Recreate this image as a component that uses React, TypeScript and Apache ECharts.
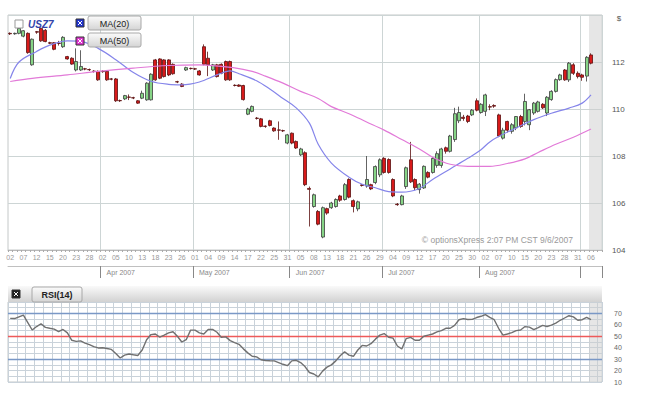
import React, { useEffect, useRef } from 'react';
import * as echarts from 'echarts';

// Trading days shown (Mar 2 – Sep 6, 2007)
const marDays = [2, 5, 6, 7, 8, 9, 12, 13, 14, 15, 16, 19, 20, 21, 22, 23, 26, 27, 28, 29, 30];
const aprDays = [2, 3, 4, 5, 6, 9, 10, 11, 12, 13, 16, 17, 18, 19, 20, 23, 24, 25, 26, 27, 30];
const mayDays = [1, 2, 3, 4, 7, 8, 9, 10, 11, 14, 15, 16, 17, 18, 21, 22, 23, 24, 25, 29, 30, 31];
const junDays = [1, 4, 5, 6, 7, 8, 11, 12, 13, 14, 15, 18, 19, 20, 21, 22, 25, 26, 27, 28, 29];
const julDays = [2, 3, 4, 5, 6, 9, 10, 11, 12, 13, 16, 17, 18, 19, 20, 23, 24, 25, 26, 27, 30, 31];
const augDays = [1, 2, 3, 6, 7, 8, 9, 10, 13, 14, 15, 16, 17, 20, 21, 22, 23, 24, 27, 28, 29, 30, 31];
const sepDays = [4, 5, 6];
const monthNums = ['03', '04', '05', '06', '07', '08', '09'];
const monthNames = ['Mar 2007', 'Apr 2007', 'May 2007', 'Jun 2007', 'Jul 2007', 'Aug 2007', ''];
const monthDays = [marDays, aprDays, mayDays, junDays, julDays, augDays, sepDays];

// USZ7 daily candles: [open, close, low, high]
const ohlcMar = [
  [113.22, 113.2, 113.15, 113.26], [113.2, 113.22, 113.16, 113.25], [113.22, 113.43, 113.18, 113.53],
  [113.1, 113.33, 113.05, 113.36], [113.22, 112.4, 112.35, 113.26], [111.88, 112.97, 111.84, 113.0],
  [113.29, 113.27, 113.2, 113.32], [113.43, 112.9, 112.86, 113.46], [113.35, 112.87, 112.84, 113.4],
  [112.82, 112.8, 112.76, 112.86], [112.82, 112.54, 112.5, 112.85], [112.8, 112.79, 112.7, 112.9],
  [112.65, 113.05, 112.6, 113.1], [112.23, 112.13, 112.1, 112.26], [112.16, 111.91, 111.88, 112.2],
  [111.66, 112.02, 111.6, 112.58], [111.66, 111.81, 111.62, 112.5], [111.71, 111.7, 111.65, 111.75],
  [111.68, 111.67, 111.62, 111.72], [111.61, 111.6, 111.55, 111.65], [111.6, 111.24, 111.2, 111.64],
];
const ohlcApr = [
  [111.6, 111.59, 111.54, 111.65], [111.6, 111.24, 111.2, 111.64], [111.28, 111.27, 111.22, 111.32],
  [111.28, 110.35, 110.3, 111.32], [110.36, 110.35, 110.3, 110.4], [110.43, 110.57, 110.38, 110.6],
  [110.51, 110.5, 110.38, 110.62], [110.48, 110.47, 110.42, 110.52], [110.35, 110.25, 110.22, 110.38],
  [110.46, 110.67, 110.42, 110.78], [110.39, 111.1, 110.35, 111.14], [110.39, 111.48, 110.36, 111.52],
  [112.09, 111.24, 111.2, 112.13], [112.13, 111.31, 111.27, 112.16], [112.09, 111.38, 111.34, 112.12],
  [112.09, 111.45, 111.4, 112.12], [111.9, 111.5, 111.46, 111.94], [111.16, 111.15, 111.1, 111.2],
  [111.06, 110.96, 110.93, 111.1], [111.66, 111.76, 111.62, 111.8], [111.73, 111.72, 111.68, 111.76],
];
const ohlcMay = [
  [111.71, 111.7, 111.66, 111.75], [111.62, 111.45, 111.42, 111.66], [112.65, 111.9, 111.86, 112.75],
  [112.16, 111.88, 111.4, 112.44], [111.66, 111.88, 111.62, 111.92], [111.88, 111.38, 111.34, 111.92],
  [111.9, 111.52, 111.48, 111.94], [112.02, 111.24, 111.2, 112.06], [112.02, 111.24, 111.2, 112.06],
  [111.01, 111.0, 110.96, 111.05], [111.02, 110.97, 110.94, 111.05], [111.0, 110.4, 110.36, 111.03],
  [109.78, 110.0, 109.74, 110.05], [109.9, 110.11, 109.86, 110.15], [109.61, 109.6, 109.55, 109.66],
  [109.58, 109.26, 109.22, 109.62], [109.27, 109.26, 109.2, 109.3], [109.5, 109.3, 109.26, 109.54],
  [109.19, 109.07, 109.03, 109.22], [109.11, 109.1, 108.69, 109.47], [109.08, 109.07, 109.02, 109.12],
  [108.55, 108.9, 108.5, 108.94],
];
const ohlcJun = [
  [108.97, 108.55, 108.5, 109.0], [108.62, 108.34, 108.3, 108.66], [108.05, 108.3, 108.0, 108.35],
  [108.14, 106.78, 106.72, 108.2], [106.62, 106.58, 105.0, 106.7], [105.85, 106.35, 105.8, 106.4],
  [105.64, 105.1, 105.05, 105.7], [104.55, 105.8, 104.5, 105.85], [105.76, 105.57, 105.5, 105.8],
  [105.8, 106.0, 105.75, 106.05], [105.85, 106.15, 105.8, 106.2], [106.3, 106.12, 106.05, 106.35],
  [106.15, 106.78, 106.1, 106.85], [107.0, 106.25, 106.2, 107.05], [106.1, 105.85, 105.6, 106.15],
  [105.75, 106.05, 105.65, 106.1], [106.77, 106.75, 106.7, 106.8], [106.72, 107.0, 106.65, 108.0],
  [106.78, 106.6, 106.55, 106.82], [106.87, 107.55, 106.8, 107.6], [107.2, 107.84, 107.1, 107.9],
];
const ohlcJul = [
  [107.9, 107.3, 107.25, 107.95], [107.85, 107.3, 107.25, 107.9], [107.0, 106.3, 106.25, 107.05],
  [105.95, 105.93, 105.88, 106.0], [105.93, 106.3, 105.9, 106.35], [106.7, 107.5, 106.6, 107.55],
  [107.84, 106.9, 106.85, 108.6], [107.0, 106.65, 106.55, 107.05], [106.57, 106.8, 106.4, 106.85],
  [106.64, 107.56, 106.6, 107.6], [107.3, 107.1, 107.05, 107.35], [107.3, 107.9, 107.25, 107.95],
  [107.6, 108.1, 107.5, 108.2], [107.6, 108.3, 107.5, 108.35], [108.35, 108.2, 108.1, 108.4],
  [108.2, 108.85, 108.15, 108.9], [108.7, 109.8, 108.6, 110.05], [109.5, 109.85, 109.4, 110.1],
  [109.65, 109.6, 109.5, 109.75], [109.7, 109.47, 109.4, 109.75], [109.75, 109.95, 109.7, 110.0],
  [110.35, 109.95, 109.9, 110.45],
];
const ohlcAug = [
  [109.85, 110.2, 109.8, 110.25], [109.9, 110.6, 109.7, 110.65], [110.1, 110.08, 109.95, 110.2],
  [110.15, 110.12, 110.05, 110.2], [109.75, 108.85, 108.8, 109.8], [108.76, 109.1, 108.7, 109.2],
  [109.47, 109.1, 109.0, 109.5], [109.05, 109.33, 108.95, 109.4], [109.2, 109.68, 109.1, 109.7],
  [109.68, 109.26, 109.2, 109.75], [109.47, 110.32, 109.3, 110.65], [109.33, 109.97, 109.1, 110.0],
  [109.83, 110.25, 109.75, 110.3], [109.9, 110.3, 109.85, 110.35], [110.2, 110.05, 110.0, 110.25],
  [109.83, 110.5, 109.7, 110.55], [110.4, 110.75, 110.35, 110.8], [110.75, 111.25, 110.7, 111.3],
  [111.25, 111.45, 111.2, 111.5], [111.66, 111.24, 111.2, 111.7], [111.24, 111.95, 111.15, 112.0],
  [111.88, 111.52, 111.45, 111.95], [111.52, 111.38, 111.3, 111.6],
];
const ohlcSep = [
  [111.45, 111.35, 111.2, 111.5], [111.4, 112.2, 111.17, 112.25], [112.3, 111.95, 111.9, 112.37],
];

// Moving averages: [day index, value]
const ma20Points = [
  [0, 111.3], [2, 112.0], [6, 112.45], [9, 112.72], [13, 112.9], [16, 112.88], [20, 112.58], [24, 112.1],
  [28, 111.55], [32, 111.18], [36, 111.05], [39, 111.03], [43, 111.15], [47, 111.45], [50, 111.62],
  [52, 111.5], [56, 111.2], [59, 110.85], [62, 110.45], [65, 110.05], [68, 109.4], [70, 108.5],
  [73, 107.7], [77, 107.1], [80, 106.8], [83, 106.65], [86, 106.48], [89, 106.46], [93, 106.62],
  [96, 107.0], [100, 107.45], [104, 107.9], [107, 108.27], [109, 108.6], [111, 108.83], [115, 109.19],
  [119, 109.55], [123, 109.82], [127, 110.04], [130, 110.25], [132, 110.6],
];
const ma50Points = [
  [0, 111.17], [5, 111.3], [13, 111.45], [20, 111.6], [28, 111.74], [36, 111.85], [43, 111.88],
  [51, 111.75], [55, 111.6], [58, 111.4], [62, 111.1], [66, 110.75], [70, 110.45], [73, 110.1],
  [77, 109.8], [81, 109.45], [85, 109.1], [89, 108.7], [93, 108.3], [96, 107.95], [100, 107.65],
  [104, 107.56], [109, 107.56], [113, 107.68], [117, 107.88], [120, 108.15], [124, 108.5],
  [128, 108.8], [132, 109.15],
];

// RSI(14) per trading day
const rsi14 = [
  65.7, 65.5, 67, 68.5, 62, 55.5, 58.5, 61, 57.8, 57,
  56.3, 54, 56, 53, 46.5, 45.5, 46, 44, 42.7, 41,
  39.8, 40, 39.3, 38.5, 35, 31, 33.5, 34.5, 33.8, 33.2,
  38, 47, 51.5, 52, 49.2, 51, 53, 54, 50, 45,
  47, 55.4, 55.4, 53, 52, 56, 56, 53.5, 49, 49.5,
  46.2, 44.5, 43, 39, 35.5, 32.5, 32, 29.5, 28.8, 28.6,
  28.5, 27, 25.5, 24.3, 28.5, 29, 27, 23.5, 18.3, 17,
  14.5, 19.5, 23, 25, 28.5, 33, 36.5, 33.5, 32.5, 38,
  42, 41.5, 43.5, 47.5, 51, 52.4, 49.2, 48.4, 41.5, 38.9,
  48, 49, 46.5, 46.5, 50, 51, 52, 53.8, 55, 57,
  57, 59.5, 64.5, 65.5, 64.7, 64.8, 66.4, 67.5, 69, 66.5,
  64.5, 57, 51, 52, 53.2, 55, 55.5, 58.5, 58, 55.8,
  57.5, 59.5, 58.6, 59.7, 61.5, 64, 66, 68, 67, 64,
  64.5, 66.5, 64.5,
];

const priceMin = 104;
const priceMax = 114;
const priceStep = 2;
const rsiMin = 10;
const rsiMax = 80;
const rsiLevels = [70, 50, 30];

const FONT = 'Liberation Sans, Arial, sans-serif';

export default function App() {
  const ref = useRef<HTMLDivElement>(null);

  useEffect(() => {
    document.body.style.margin = '0';
    const chart = echarts.init(ref.current as HTMLDivElement, null, { renderer: 'svg' });

    const categories: string[] = [];
    const monthStart: number[] = [];
    monthDays.forEach((days, m) => {
      monthStart.push(categories.length);
      days.forEach((d) => categories.push(`${monthNums[m]}/${String(d).padStart(2, '0')}`));
    });
    categories.push('pad1', 'pad2');
    const gridIdx = new Set(monthStart.slice(1));
    const labelIdx = new Map<number, string>();
    monthStart.forEach((s, m) => {
      if (m > 0 && monthNames[m]) labelIdx.set(s, monthNames[m]);
    });

    const ohlc = [...ohlcMar, ...ohlcApr, ...ohlcMay, ...ohlcJun, ...ohlcJul, ...ohlcAug, ...ohlcSep];

    const btnFill = () =>
      new echarts.graphic.LinearGradient(0, 0, 0, 1, [
        { offset: 0, color: '#fbfbfb' },
        { offset: 1, color: '#d4d4d4' },
      ]);

    const checkbox = (x: number, y: number, fill: string, mark: boolean) => {
      const els: any[] = [
        { type: 'rect', z: 50, shape: { x, y, width: 8, height: 8 }, style: { fill, stroke: mark ? '#333' : '#999', lineWidth: 1 } },
      ];
      if (mark) {
        els.push(
          { type: 'line', z: 51, shape: { x1: x + 2, y1: y + 2, x2: x + 6, y2: y + 6 }, style: { stroke: '#fff', lineWidth: 1 } },
          { type: 'line', z: 51, shape: { x1: x + 6, y1: y + 2, x2: x + 2, y2: y + 6 }, style: { stroke: '#fff', lineWidth: 1 } }
        );
      }
      return els;
    };

    const button = (x: number, y: number, w: number, h: number, label: string, bold: boolean) => [
      { type: 'rect', z: 50, shape: { x, y, width: w, height: h, r: 2 }, style: { fill: btnFill(), stroke: '#a8a8a8', lineWidth: 1 } },
      {
        type: 'text', z: 51, x: x + w / 2, y: y + h / 2 + 0.5,
        style: { text: label, align: 'center', verticalAlign: 'middle', fill: '#222', font: `${bold ? 'bold ' : ''}9px ${FONT}` },
      },
    ];

    const option: any = {
      animation: false,
      backgroundColor: '#ffffff',
      textStyle: { fontFamily: FONT },
      grid: [
        { left: 8, top: 15, width: 594, height: 235, show: true, borderColor: '#c4c8c8', borderWidth: 1, backgroundColor: 'transparent' },
        { left: 8, top: 302, width: 594, height: 80, show: true, borderColor: '#c4c8c8', borderWidth: 1, backgroundColor: 'transparent' },
      ],
      xAxis: [
        {
          type: 'category', gridIndex: 0, data: categories, boundaryGap: true,
          axisLine: { show: true, lineStyle: { color: '#b8b8b8' } },
          axisTick: { show: true, interval: 0, length: 2, lineStyle: { color: '#aaa' } },
          axisLabel: {
            interval: 2, fontSize: 7, color: '#999', margin: 4,
            formatter: (v: string) => (v.startsWith('pad') ? '' : v.slice(3)),
          },
          splitLine: { show: true, interval: (i: number) => gridIdx.has(i), lineStyle: { color: '#cdd5d5', width: 1 } },
        },
        {
          type: 'category', gridIndex: 0, data: categories, boundaryGap: true, position: 'bottom', offset: 16,
          axisLine: { show: true, lineStyle: { color: '#c0c0c0' } },
          axisTick: { show: true, interval: (i: number) => gridIdx.has(i), length: 12, lineStyle: { color: '#888' } },
          axisLabel: {
            interval: (i: number) => labelIdx.has(i), fontSize: 7, color: '#888', margin: 3, align: 'left',
            padding: [0, 0, 0, 4],
            formatter: (_v: string, i: number) => labelIdx.get(i) || '',
          },
          splitLine: { show: false },
        },
        {
          type: 'category', gridIndex: 1, data: categories, boundaryGap: true,
          axisLine: { show: false }, axisTick: { show: false }, axisLabel: { show: false },
          splitLine: { show: true, interval: 1, lineStyle: { color: '#c9d2da', width: 1 } },
        },
      ],
      yAxis: [
        {
          type: 'value', gridIndex: 0, position: 'right', min: priceMin, max: priceMax, interval: priceStep,
          axisLine: { show: false }, axisTick: { show: false },
          axisLabel: { fontSize: 8, color: '#555', margin: 10, formatter: (v: number) => (v === priceMax ? '' : String(v)) },
          splitLine: { show: true, lineStyle: { color: '#cdd5d5', width: 1 } },
        },
        {
          type: 'value', gridIndex: 1, position: 'right', min: rsiMin, max: rsiMax, interval: 5,
          axisLine: { show: false }, axisTick: { show: false },
          axisLabel: {
            fontSize: 7, color: '#666', margin: 12,
            formatter: (v: number) => (v % 10 === 0 && v < rsiMax ? String(v) : ''),
          },
          splitLine: { show: true, lineStyle: { color: '#c9d2da', width: 1 } },
        },
      ],
      series: [
        {
          name: 'USZ7', type: 'candlestick', xAxisIndex: 0, yAxisIndex: 0, data: ohlc, barWidth: '78%', z: 3,
          itemStyle: { color: '#86d486', color0: '#d81a1a', borderColor: '#3c3c3c', borderColor0: '#5a1010', borderWidth: 0.8 },
        },
        {
          name: 'MA(20)', type: 'line', xAxisIndex: 0, yAxisIndex: 0, data: ma20Points, smooth: 0.35,
          showSymbol: false, symbol: 'none', z: 4, lineStyle: { color: '#8585ea', width: 1.2 },
        },
        {
          name: 'MA(50)', type: 'line', xAxisIndex: 0, yAxisIndex: 0, data: ma50Points, smooth: 0.35,
          showSymbol: false, symbol: 'none', z: 4, lineStyle: { color: '#e27ad8', width: 1.2 },
        },
        {
          name: 'RSI(14)', type: 'line', xAxisIndex: 2, yAxisIndex: 1, data: rsi14, z: 5,
          showSymbol: false, symbol: 'none', lineStyle: { color: '#707070', width: 1.4 },
          markLine: {
            silent: true, symbol: 'none', label: { show: false },
            data: rsiLevels.map((lv) => ({
              yAxis: lv,
              lineStyle: { color: lv === 50 ? '#ee5a5a' : '#7a98c6', width: 1.4, type: 'solid' },
            })),
          },
        },
      ],
      graphic: [
        // shaded "today" strip
        { type: 'rect', z: 1, silent: true, shape: { x: 589, y: 15.5, width: 12.5, height: 234 }, style: { fill: 'rgba(205,205,205,0.5)' } },
        { type: 'rect', z: 1, silent: true, shape: { x: 589, y: 302.5, width: 12.5, height: 79 }, style: { fill: 'rgba(205,205,205,0.5)' } },
        // currency mark above price axis
        { type: 'text', z: 50, x: 619, y: 18, style: { text: '$', align: 'center', verticalAlign: 'middle', fill: '#555', font: `8px ${FONT}` } },
        // symbol + MA toggles
        ...checkbox(15, 20, '#ffffff', false),
        { type: 'text', z: 50, x: 28, y: 24, style: { text: 'USZ7', verticalAlign: 'middle', fill: '#3344aa', font: `italic bold 10px ${FONT}` } },
        ...checkbox(76, 19, '#2234cc', true),
        ...button(88, 16, 53, 14, 'MA(20)', false),
        ...checkbox(76, 37, '#dd35cc', true),
        ...button(88, 33, 53, 14, 'MA(50)', false),
        // copyright
        {
          type: 'text', z: 50, x: 573, y: 240,
          style: { text: '© optionsXpress 2:07 PM CST 9/6/2007', align: 'right', verticalAlign: 'middle', fill: '#9a9a9a', font: `8.5px ${FONT}` },
        },
        // RSI header bar
        {
          type: 'rect', z: 40, shape: { x: 8, y: 286, width: 594, height: 16 },
          style: {
            fill: new echarts.graphic.LinearGradient(0, 0, 0, 1, [
              { offset: 0, color: '#fafafa' },
              { offset: 1, color: '#d2d2d2' },
            ]),
          },
        },
        ...checkbox(12, 290, '#222222', true),
        ...button(32, 287, 50, 15, 'RSI(14)', true),
      ],
    };

    chart.setOption(option);
    return () => chart.dispose();
  }, []);

  return <div ref={ref} style={{ width: 650, height: 400 }} />;
}
